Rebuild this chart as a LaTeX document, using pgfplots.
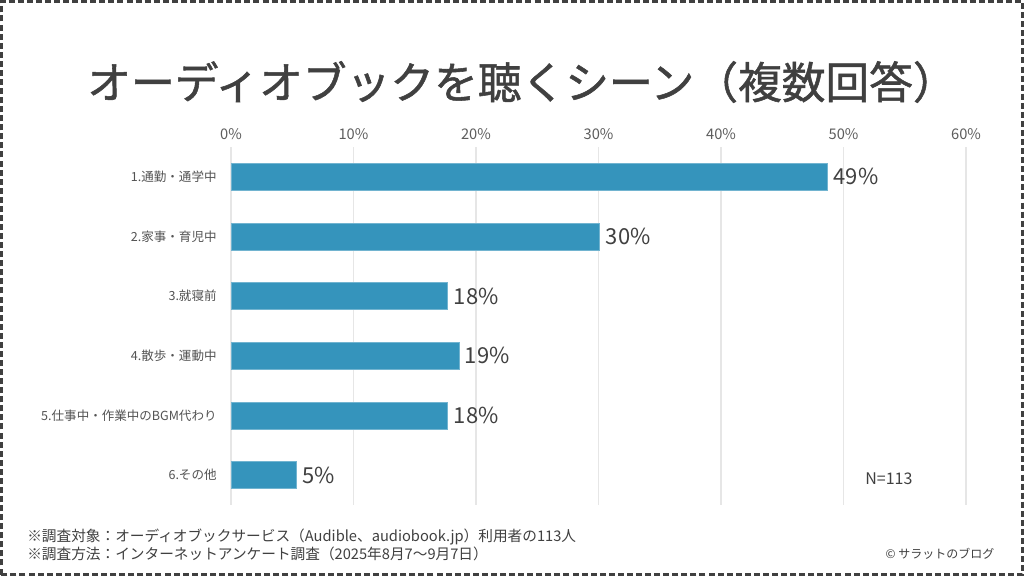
\documentclass[border=0pt]{standalone}
\usepackage{fontspec}
\setmainfont{Noto Sans CJK JP}
\newfontfamily\titlefont[FakeBold=1.2]{Noto Sans CJK JP}
\usepackage{pgfplots}
\pgfplotsset{compat=1.18}
\definecolor{barc}{HTML}{3594BC}
\definecolor{txt}{HTML}{404040}
\definecolor{gridc}{HTML}{E6E6E6}
\begin{document}
\begin{tikzpicture}
\path[use as bounding box] (0,0) rectangle (768pt,432pt);
\fill[white] (0,0) rectangle (768pt,432pt);
\draw[txt, line width=2.2pt, dash pattern=on 4.5pt off 2.3pt] (1.1pt,1.1pt) rectangle (766.9pt,430.9pt);
\node[txt, font=\titlefont\fontsize{32.8pt}{38pt}\selectfont] at (391.5pt,370.5pt) {オーディオブックを聴くシーン（複数回答）};
\begin{axis}[
  at={(173.25pt,53.25pt)}, anchor=south west,
  width=551.25pt, height=268.5pt, scale only axis,
  xmin=0, xmax=60, ymin=0.5, ymax=6.5, y dir=reverse,
  xbar, bar width=20.25pt, bar shift=0pt,
  xtick={0,10,20,30,40,50,60},
  xticklabels={0\%,10\%,20\%,30\%,40\%,50\%,60\%},
  xticklabel pos=upper,
  ytick={1,2,3,4,5,6},
  yticklabels={1.通勤・通学中,2.家事・育児中,3.就寝前,4.散歩・運動中,5.仕事中・作業中のBGM代わり,6.その他},
  xticklabel style={font=\fontsize{11pt}{12pt}\selectfont, text=txt!85, yshift=2pt},
  yticklabel style={font=\fontsize{9.4pt}{11pt}\selectfont, text=txt!90, xshift=-3pt},
  xmajorgrids, major grid style={gridc, line width=0.8pt},
  axis line style={draw=none}, tick style={draw=none},
  nodes near coords, point meta=explicit symbolic,
  nodes near coords style={font=\fontsize{16.5pt}{18pt}\selectfont, text=txt, anchor=west, xshift=1pt},
  clip=false,
]
\addplot[fill=barc, draw=barc!70!white, line width=0.5pt] table[meta=label] {
x y label
48.7 1 49\%
30.1 2 30\%
17.7 3 18\%
18.6 4 19\%
17.7 5 18\%
5.3 6 5\%
};
\end{axis}
\node[txt, font=\fontsize{12pt}{14pt}\selectfont, anchor=west] at (645.5pt,72.75pt) {N=113};
\node[txt, font=\fontsize{11pt}{13pt}\selectfont, anchor=west, inner sep=0pt] at (20.25pt,29.25pt) {※調査対象：オーディオブックサービス（Audible、audiobook.jp）利用者の113人};
\node[txt, font=\fontsize{11pt}{13pt}\selectfont, anchor=west, inner sep=0pt] at (20.25pt,16.5pt) {※調査方法：インターネットアンケート調査（2025年8月7～9月7日）};
\node[txt, font=\fontsize{9pt}{11pt}\selectfont, anchor=east, inner sep=0pt] at (746pt,17pt) {© サラットのブログ};
\end{tikzpicture}
\end{document}
